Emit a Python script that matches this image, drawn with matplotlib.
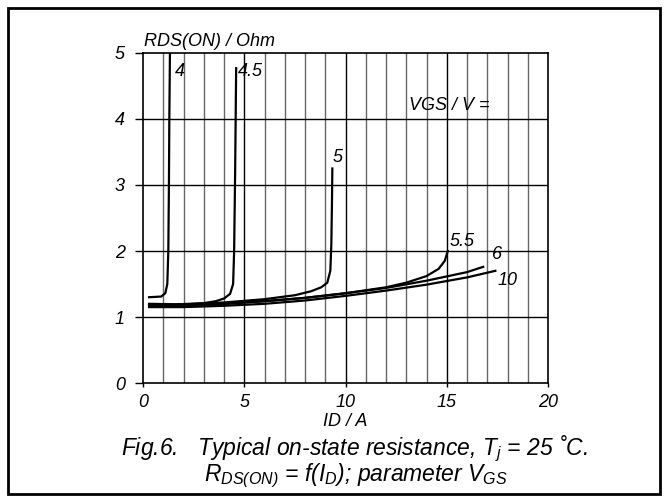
import numpy as np
import matplotlib
matplotlib.use("Agg")
import matplotlib.pyplot as plt
from matplotlib.patches import Rectangle

plt.rcParams['font.family'] = ['Liberation Sans', 'DejaVu Sans']
plt.rcParams['font.style'] = 'italic'
plt.rcParams['mathtext.fontset'] = 'custom'
plt.rcParams['mathtext.it'] = 'Liberation Sans:italic'
plt.rcParams['mathtext.rm'] = 'Liberation Sans:italic'

# curves, RDS(ON) vs ID for each VGS
id_4 = [0.3, 0.9, 1.1, 1.2, 1.25, 1.28, 1.3, 1.33]
rds_4 = [1.30, 1.31, 1.36, 1.5, 2.0, 3.0, 4.0, 5.0]

id_45 = [0.3, 1.5, 3.0, 3.6, 4.0, 4.3, 4.45, 4.5, 4.55, 4.6]
rds_45 = [1.19, 1.19, 1.21, 1.24, 1.28, 1.35, 1.5, 2.0, 3.2, 4.77]

id_5 = [0.3, 2, 4, 6, 7.5, 8.3, 8.8, 9.1, 9.25, 9.3, 9.33, 9.35]
rds_5 = [1.20, 1.19, 1.22, 1.27, 1.33, 1.39, 1.45, 1.52, 1.7, 2.1, 2.7, 3.25]

id_55 = [0.3, 2, 4, 6, 8, 10, 12, 13, 14, 14.6, 14.9, 15.05]
rds_55 = [1.18, 1.18, 1.20, 1.24, 1.29, 1.36, 1.45, 1.52, 1.62, 1.73, 1.85, 2.0]

id_6 = [0.3, 2, 4, 6, 8, 10, 12, 14, 16, 16.8]
rds_6 = [1.18, 1.18, 1.20, 1.24, 1.29, 1.36, 1.44, 1.55, 1.68, 1.76]

id_10 = [0.3, 2, 4, 6, 8, 10, 12, 14, 16, 17.4]
rds_10 = [1.15, 1.15, 1.17, 1.20, 1.25, 1.32, 1.40, 1.49, 1.60, 1.70]

curve_labels = ['4', '4.5', '5', '5.5', '6', '10']
label_pos = [(1.8, 4.72), (5.3, 4.72), (9.6, 3.42), (15.75, 2.15), (17.5, 1.95), (18.0, 1.55)]

fig = plt.figure(figsize=(6.67, 4.98), dpi=100)
ax = fig.add_axes([0.2144, 0.2309, 0.6072, 0.6627])

# grid
for xv in range(1, 20):
    col = 'black' if xv % 5 == 0 else '#666666'
    ax.axvline(xv, color=col, lw=1.0, zorder=1)
for yv in range(1, 5):
    ax.axhline(yv, color='black', lw=1.0, zorder=1)

curves = [(id_4, rds_4), (id_45, rds_45), (id_5, rds_5),
          (id_55, rds_55), (id_6, rds_6), (id_10, rds_10)]
for (x, y) in curves:
    ax.plot(x, y, color='black', lw=1.6, zorder=3)

for lab, (lx, ly) in zip(curve_labels, label_pos):
    ax.text(lx, ly, lab, fontsize=13, ha='center', va='center', zorder=4)

ax.text(15.1, 4.2, 'VGS / V =', fontsize=13, ha='center', va='center')

ax.set_xlim(0, 20)
ax.set_ylim(0, 5)
ax.set_xticks([0, 5, 10, 15, 20])
ax.set_yticks([0, 1, 2, 3, 4, 5])
ax.tick_params(axis='y', direction='out', length=6, width=1, labelsize=13, pad=7)
ax.tick_params(axis='x', direction='out', length=3, width=1, labelsize=13, pad=5)
for s in ax.spines.values():
    s.set_linewidth(1.2)

ax.set_xlabel('ID / A', fontsize=13, labelpad=1)
ax.text(0.05, 5.04, 'RDS(ON) / Ohm', fontsize=13, ha='left', va='bottom')

fig.text(0.532, 0.099, 'Fig.6.   Typical on-state resistance, $T_j$ = 25 ˚C.',
         fontsize=16.5, ha='center', va='center')
fig.text(0.534, 0.044, '$R_{DS(ON)}$ = f($I_D$); parameter $V_{GS}$',
         fontsize=16.5, ha='center', va='center')

fig.patches.append(Rectangle((0.012, 0.008), 0.978, 0.976, transform=fig.transFigure,
                             fill=False, edgecolor='black', lw=2))

plt.savefig('out.png', dpi=100)
